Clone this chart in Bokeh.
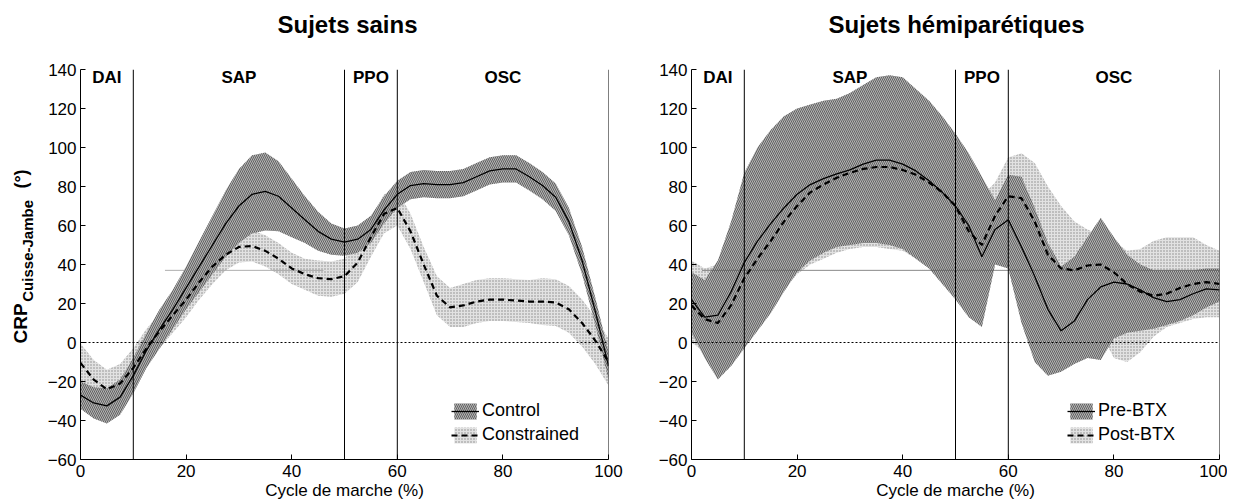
import math
from bokeh.plotting import figure
from bokeh.models import Legend, LegendItem, Span, FixedTicker, Range1d
from bokeh.layouts import row, column
from bokeh.embed import file_html
from bokeh.resources import INLINE
from bokeh.core.properties import value

FONT = "Liberation Sans"

# ---------------- data ----------------
cycle = [0, 2.5, 5, 7.5, 10, 12.5, 15, 17.5, 20, 22.5, 25, 27.5, 30, 32.5, 35, 37.5,
         40, 42.5, 45, 47.5, 50, 52.5, 55, 57.5, 60, 62.5, 65, 67.5, 70, 72.5, 75,
         77.5, 80, 82.5, 85, 87.5, 90, 92.5, 95, 97.5, 100]

phase_bounds = [10, 50, 60, 100]
phase_names = ["DAI", "SAP", "PPO", "OSC"]
phase_centers = [5, 30, 55, 80]

# Healthy subjects - Control (mean, SD)
control_mean = [-27, -31, -32.5, -28, -17, -4, 7, 17, 28, 39, 50, 61, 70, 76, 77.5, 75,
                69, 63, 57, 53, 51.5, 53, 58, 68, 76, 80.5, 81.5, 81, 81, 82, 85,
                88, 89, 89, 85, 80.5, 74.5, 62, 42, 16, -12]
control_sd = [7, 8, 9, 9, 9, 9, 10, 10, 11, 13, 15, 17, 19, 20, 20, 18,
              15, 12, 10, 8, 7, 7, 7, 7, 7, 7, 7, 7, 7, 7, 7,
              7, 7, 7, 7, 7, 7, 7, 7, 7, 7]

# Healthy subjects - Constrained (mean, SD)
constrained_mean = [-10.5, -19, -24, -21, -13, -3, 6, 14, 22, 31, 39, 45, 49, 49.5, 47, 43,
                    38, 35, 33, 32.5, 34, 41, 54, 66, 69, 57, 40, 24, 18, 19, 21,
                    22, 22, 21.5, 21, 21, 20.5, 17, 10, 1, -10]
constrained_sd = [10, 10, 10, 10, 10, 10, 9, 9, 9, 9, 9, 8, 8, 8, 8, 8,
                  8, 8, 9, 9, 9, 10, 10, 10, 9, 9, 9, 10, 10, 11, 11,
                  11, 11, 11, 11, 12, 12, 12, 12, 12, 12]

# Hemiparetic subjects - Pre-BTX (mean, lower, upper)
pre_mean = [22, 13, 14, 26, 41, 52, 61, 69, 76, 81, 84, 86.5, 88.5, 91.5, 93.5, 93.5,
            91.5, 88, 83, 77, 70, 60, 44, 58, 63, 49, 34, 17, 6, 11, 22,
            28.5, 31, 30, 27, 23, 21, 22, 25, 27.5, 27]
pre_low = [5, -8, -19, -12, -3, 6, 15, 26, 36, 42, 46, 49, 50, 51, 51, 50,
           48, 43, 38, 30, 22, 13, 8, 40, 38, 10, -10, -17, -15, -11, -8,
           -9, 2, 5, 6, 7, 9, 11, 14, 18, 21]
pre_high = [36, 32, 42, 62, 87, 100, 109, 116, 120, 122, 124, 125, 128, 132, 136, 137,
            136, 130, 124, 116, 107, 97, 85, 73, 86, 85, 69, 51, 39, 44, 54,
            64, 54, 45, 40, 37, 37, 37, 37, 38, 38]

# Hemiparetic subjects - Post-BTX (mean, lower, upper)
post_mean = [19, 12, 10, 19, 33, 43, 52, 62, 70, 77, 81, 84.5, 87, 89, 90, 90,
             88.5, 86, 82, 77, 70, 57, 50, 65, 75, 74, 62, 45, 38, 37, 39.5,
             40, 36, 30, 26, 24, 25, 28, 30, 31, 30]
post_low = [0, -5, -10, -8, -3, 7, 17, 27, 35, 40, 43, 46, 48, 49, 49, 48,
            47, 43, 38, 32, 24, 16, 20, 42, 45, 40, 30, 18, 12, 14, 14,
            5, -8, -10, -5, 3, 8, 10, 12, 13, 13]
post_high = [42, 38, 40, 55, 75, 90, 100, 108, 113, 117, 120, 122, 125, 128, 130, 130,
             128, 124, 118, 110, 100, 85, 75, 82, 95, 97, 92, 80, 70, 62, 58,
             55, 52, 47, 48, 52, 54, 54, 54, 50, 47]

# thin horizontal scan rule visible in the original figure (x extent, level)
scan_rule_left_x = [16, 46]
scan_rule_right_x = [2, 100]
scan_rule_y = 37

x_ticks = [0, 20, 40, 60, 80, 100]
y_ticks = [-60, -40, -20, 0, 20, 40, 60, 80, 100, 120, 140]

titles = ["Sujets sains", "Sujets hémiparétiques"]
legend_labels = [["Control", "Constrained"], ["Pre-BTX", "Post-BTX"]]
x_label = "Cycle de marche (%)"
y_label_parts = ["CRP", "Cuisse-Jambe", "(°)"]

DARK = dict(fill_color="#b4b4b4", fill_alpha=1.0, hatch_pattern="\\", hatch_color="#333333",
            hatch_alpha=0.8, hatch_scale=4, hatch_weight=0.8)
LIGHT = dict(fill_color="#e2e2e2", fill_alpha=1.0, hatch_pattern=".", hatch_color="#808080",
             hatch_alpha=0.9, hatch_scale=3, hatch_weight=1)

TOP_H = 42      # strip holding the panel titles
MAIN_H = 460    # height of the plotting row
BOTTOM = TOP_H + MAIN_H
FRAME_TOP, FRAME_BOTTOM = 69, 462   # page y of the plotting frames
W0, W1, W2 = 44, 584, 599


def blank(width, height, y0, y1):
    f = figure(width=width, height=height, output_backend="svg", toolbar_location=None,
               x_range=Range1d(0, width), y_range=Range1d(y0, y1), min_border=0,
               x_axis_type=None, y_axis_type=None)
    f.outline_line_color = None
    f.grid.visible = False
    return f


def make_panel(width, b_left, b_right, dark_mean, dark_lo, dark_hi,
               light_mean, light_lo, light_hi, labels, leg_x, rule_x, rule_color):
    p = figure(width=width, height=MAIN_H, output_backend="svg", toolbar_location=None,
               x_range=Range1d(0, 100), y_range=Range1d(-60, 140),
               min_border_left=b_left, min_border_right=b_right,
               min_border_top=FRAME_TOP - TOP_H, min_border_bottom=BOTTOM - FRAME_BOTTOM)
    p.outline_line_color = None
    p.grid.visible = False
    p.background_fill_color = "white"
    for ax in (p.xaxis[0], p.yaxis[0]):
        ax.major_tick_in = 5
        ax.major_tick_out = 0
        ax.minor_tick_line_color = None
        ax.axis_line_color = "black"
        ax.major_tick_line_color = "black"
        ax.major_label_text_font = FONT
        ax.major_label_text_font_size = "17px"
        ax.major_label_text_color = "black"
    p.xaxis.ticker = FixedTicker(ticks=x_ticks)
    p.yaxis.ticker = FixedTicker(ticks=y_ticks)
    p.xaxis.major_label_standoff = 5
    p.yaxis.major_label_standoff = 4
    p.xaxis.axis_label = x_label
    p.xaxis.axis_label_standoff = 1
    p.xaxis.axis_label_text_font = FONT
    p.xaxis.axis_label_text_font_style = "normal"
    p.xaxis.axis_label_text_font_size = "17px"
    p.xaxis.axis_label_text_color = "black"

    # phase names (under the bands)
    p.text(x=phase_centers, y=[136] * 4, text=phase_names, text_font=value(FONT),
           text_font_style="bold", text_font_size="17px", text_align="center",
           text_baseline="middle", text_color="black")

    r_light = p.varea(x=cycle, y1=light_lo, y2=light_hi, **LIGHT)
    r_dark = p.varea(x=cycle, y1=dark_lo, y2=dark_hi, **DARK)
    p.line(rule_x, [scan_rule_y] * len(rule_x), line_color=rule_color, line_width=0.7)
    l_dark = p.line(cycle, dark_mean, line_color="black", line_width=1.3)
    l_light = p.line(cycle, light_mean, line_color="black", line_width=2.2, line_dash="6 4")

    for b in phase_bounds:
        p.add_layout(Span(location=b, dimension="height", line_color="black", line_width=1))
    p.add_layout(Span(location=0, dimension="width", line_color="black", line_width=1,
                      line_dash="2 2"))

    leg = Legend(items=[LegendItem(label=labels[0], renderers=[r_dark, l_dark]),
                        LegendItem(label=labels[1], renderers=[r_light, l_light])],
                 location=(leg_x, 14), glyph_width=28, glyph_height=20, spacing=3,
                 padding=0, margin=0, label_standoff=3,
                 label_text_font=FONT, label_text_font_size="18px",
                 label_text_color="black",
                 background_fill_alpha=0, border_line_alpha=0)
    p.add_layout(leg)
    return p


# title strip (data units = page pixels, y measured up from the strip bottom)
pt = blank(W0 + W1 + W2, TOP_H, 0, TOP_H)
pt.text(x=[347, 956], y=[TOP_H - 24, TOP_H - 24], text=titles, text_font=value(FONT),
        text_font_style="bold", text_font_size="24px", text_align="center",
        text_baseline="middle", text_color="black")

# narrow strip holding the rotated y-axis label (its frame is aligned with the panels' frames)
p0 = figure(width=W0, height=MAIN_H, output_backend="svg", toolbar_location=None,
            x_range=Range1d(0, W0), y_range=Range1d(BOTTOM - FRAME_BOTTOM, BOTTOM - FRAME_TOP),
            min_border_left=0, min_border_right=0,
            min_border_top=FRAME_TOP - TOP_H, min_border_bottom=BOTTOM - FRAME_BOTTOM,
            x_axis_type=None, y_axis_type=None)
p0.outline_line_color = None
p0.grid.visible = False
for txt, xx, yy, fs in [(y_label_parts[0], 20, BOTTOM - 345, "19px"),
                        (y_label_parts[1], 27, BOTTOM - 303, "15px"),
                        (y_label_parts[2], 20, BOTTOM - 189, "18px")]:
    p0.text(x=[xx], y=[yy], text=[txt], angle=math.pi / 2,
            text_font=value(FONT), text_font_style="bold", text_font_size=fs,
            text_align="left", text_baseline="alphabetic", text_color="black")

p1 = make_panel(W1, 34, 20,
                control_mean, [m - s for m, s in zip(control_mean, control_sd)],
                [m + s for m, s in zip(control_mean, control_sd)],
                constrained_mean, [m - s for m, s in zip(constrained_mean, constrained_sd)],
                [m + s for m, s in zip(constrained_mean, constrained_sd)],
                legend_labels[0], 371, scan_rule_left_x, "#8a8a8a")

p2 = make_panel(W2, 63, 8, pre_mean, pre_low, pre_high, post_mean, post_low, post_high,
                legend_labels[1], 376, scan_rule_right_x, "#555555")

layout = column(pt, row(p0, p1, p2))
open("out.html", "w").write(file_html(layout, INLINE))
